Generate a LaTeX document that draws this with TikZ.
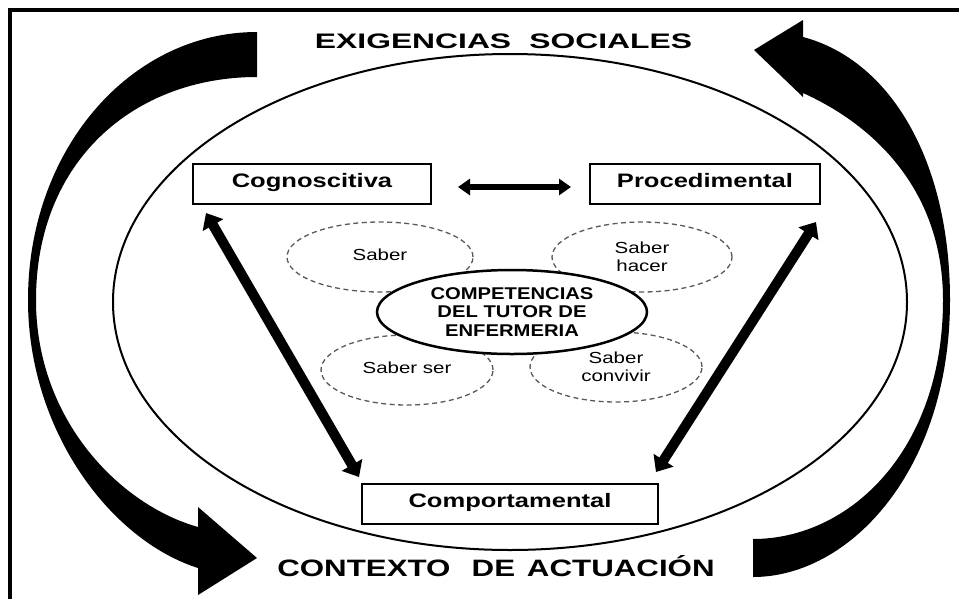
\documentclass[tikz,border=0pt]{standalone}
\usepackage{fontspec}
\setmainfont{Liberation Sans}
\usepackage{graphicx}
\usetikzlibrary{shapes.geometric,arrows.meta}
\begin{document}
\begin{tikzpicture}[x=1pt,y=-1pt,
  boxnode/.style={draw,line width=2pt,minimum width=#1,minimum height=40pt,inner sep=0pt,
    text height=14pt,text depth=8pt,font=\fontsize{19.5}{22}\selectfont\bfseries},
  saberell/.style={ellipse,draw=black!65,line width=1.3pt,dash pattern=on 5pt off 3.5pt,
    inner sep=0pt,align=center,font=\fontsize{16}{19}\selectfont},
  biarrow/.style={line width=10pt,{Triangle[width=23pt,length=14pt]}-{Triangle[width=23pt,length=14pt]}},
  harrow/.style={line width=6pt,{Triangle[width=16pt,length=12pt]}-{Triangle[width=16pt,length=12pt]}},
  bigtext/.style={anchor=base,inner sep=0pt}
]
\useasboundingbox (0,0) rectangle (959,598);
% frame
\draw[line width=4pt] (10,600) -- (10,10) -- (962,10);

% titles
\node[bigtext,font=\fontsize{21}{24}\selectfont\bfseries] (top) at (503.5,48)
  {\scalebox{1.515}[1]{EXIGENCIAS\hspace{12pt}SOCIALES}};
\node[bigtext,font=\fontsize{23.7}{26}\selectfont\bfseries] (bottom) at (496,576)
  {\scalebox{1.32}[1]{CONTEXTO\hspace{16pt}DE\hspace{9pt}ACTUACIÓN}};

% big ellipse
\node[ellipse,draw,line width=2pt,minimum width=794pt,minimum height=496pt,inner sep=0pt] (outer) at (510,302) {};

% left curved arrow
\fill[black] (257,32) .. controls (130,32) and (28,150) .. (28,300)
  .. controls (28,430) and (110,540) .. (198,568)
  -- (198,595) -- (257,558) -- (198,507) -- (198,527)
  .. controls (120,505) and (36,420) .. (36,300)
  .. controls (36,160) and (135,77) .. (257,77) -- cycle;

% right curved arrow
\fill[black] (753,577) .. controls (850,577) and (950,470) .. (950,300)
  .. controls (950,160) and (890,60) .. (803,37)
  -- (803,20) -- (754,50) -- (803,97) -- (803,93)
  .. controls (885,130) and (943,200) .. (943,300)
  .. controls (943,450) and (850,539) .. (753,539) -- cycle;

% boxes
\node[boxnode=238pt] (cog) at (312,184) {\scalebox{1.31}[1]{Cognoscitiva}};
\node[boxnode=230pt] (proc) at (705,184) {\scalebox{1.31}[1]{Procedimental}};
\node[boxnode=296pt] (comp) at (510,504) {\scalebox{1.31}[1]{Comportamental}};

% dashed ellipses
\node[saberell,minimum width=186pt,minimum height=70pt] (saber) at (380,257) {\raisebox{4pt}{\scalebox{1.28}[1]{Saber}}};
\node[saberell,minimum width=180pt,minimum height=70pt] (hacer) at (642,257) {\scalebox{1.28}[1]{Saber}\\[-1pt]\scalebox{1.28}[1]{hacer}};
\node[saberell,minimum width=172pt,minimum height=70pt] (ser) at (407,370) {\raisebox{5pt}{\scalebox{1.28}[1]{Saber ser}}};
\node[saberell,minimum width=172pt,minimum height=70pt] (conv) at (616,367) {\scalebox{1.28}[1]{Saber}\\[-1pt]\scalebox{1.28}[1]{convivir}};

% central ellipse
\node[ellipse,draw,line width=2.5pt,fill=white,minimum width=270pt,minimum height=84pt,inner sep=0pt,
  align=center,font=\fontsize{17}{18.5}\selectfont\bfseries] (comp0) at (512,312)
  {\scalebox{1.19}[1]{COMPETENCIAS}\\\scalebox{1.19}[1]{DEL TUTOR DE}\\\scalebox{1.19}[1]{ENFERMERIA}};

% connectors
\draw[harrow] ([xshift=26pt,yshift=-3pt]cog.east) -- ([xshift=-18pt,yshift=-3pt]proc.west);
\draw[biarrow] ([xshift=14pt,yshift=-8pt]cog.south west) -- ([xshift=-2pt,yshift=6pt]comp.north west);
\draw[biarrow] ([xshift=-5pt,yshift=-17pt]proc.south east) -- ([xshift=-3pt,yshift=11pt]comp.north east);
\end{tikzpicture}
\end{document}
